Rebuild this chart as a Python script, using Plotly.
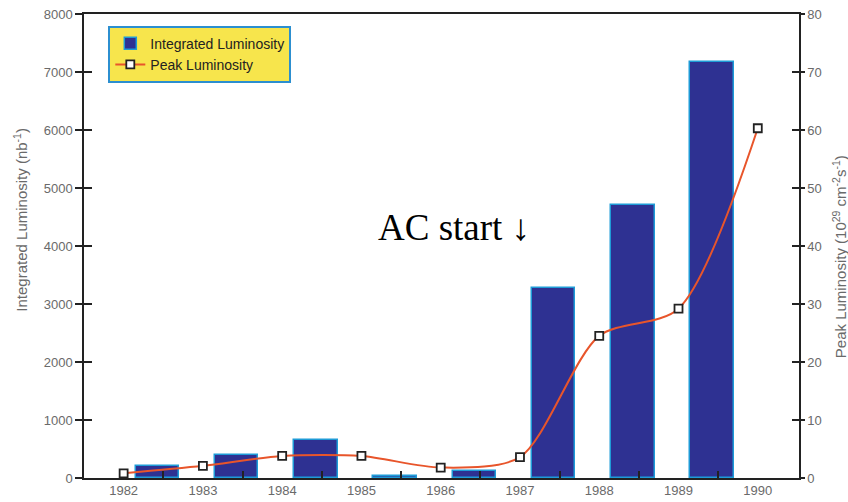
import plotly.graph_objects as go

# Fiscal-year integrated luminosity (nb^-1), bars drawn between year labels
bar_years = [1982, 1983, 1984, 1985, 1986, 1987, 1988, 1989]
integrated_lumi = [200, 390, 650, 30, 125, 3280, 4700, 7170]

# Peak luminosity (10^29 cm^-2 s^-1) at each year mark
peak_years = [1982, 1983, 1984, 1985, 1986, 1987, 1988, 1989, 1990]
peak_lumi = [0.8, 2.1, 3.8, 3.8, 1.8, 3.6, 24.5, 29.2, 60.3]

year_labels = [str(y) for y in peak_years]
left_ticks = [0, 1000, 2000, 3000, 4000, 5000, 6000, 7000, 8000]
right_ticks = [0, 10, 20, 30, 40, 50, 60, 70, 80]

FONT = "Liberation Sans Narrow, Arial Narrow, Liberation Sans, Arial"
GRAY = "#6a6a6a"
BAR_FILL = "#2E3192"
BAR_EDGE = "#1E9BD7"
LINE_COL = "#E8552B"

fig = go.Figure()

fig.add_trace(go.Bar(
    x=bar_years, y=integrated_lumi, name="Integrated Luminosity",
    offset=0.15, width=0.55,
    marker=dict(color=BAR_FILL, line=dict(color=BAR_EDGE, width=1.5)),
    xaxis="x", yaxis="y",
))

fig.add_trace(go.Scatter(
    x=peak_years, y=peak_lumi, name="Peak Luminosity",
    mode="lines+markers", line=dict(color=LINE_COL, width=2, shape="spline", smoothing=0.8),
    marker=dict(symbol="square", size=8, color="white", line=dict(color="#222222", width=1.8)),
    xaxis="x", yaxis="y2",
))

xr = [1981.5, 1990.52]
fig.update_layout(
    width=848, height=502,
    margin=dict(l=84, r=49, t=14, b=24),
    paper_bgcolor="white", plot_bgcolor="white",
    font=dict(family=FONT, size=13, color=GRAY),
    showlegend=True,
    legend=dict(
        x=0.034, y=0.975, xanchor="left", yanchor="top",
        bgcolor="#F7E54C", bordercolor="#2C8FD0", borderwidth=2,
        font=dict(family=FONT, size=14, color="#222222"),
        tracegroupgap=0, itemwidth=30,
    ),
    xaxis=dict(
        range=xr, showgrid=False, zeroline=False, automargin=False,
        tickvals=peak_years, ticktext=year_labels, ticks="",
        tickfont=dict(family=FONT, size=13, color=GRAY),
        showline=True, linecolor="#222222", linewidth=1.5, mirror=True,
        minor=dict(tickvals=[y + 0.5 for y in bar_years], ticks="inside",
                   ticklen=7, tickcolor="#222222", tickwidth=1.5),
    ),
    yaxis=dict(
        range=[0, 8000], showgrid=False, zeroline=False, automargin=False,
        tickvals=left_ticks, ticks="outside", ticklen=7, tickwidth=1.5, tickcolor="#222222",
        tickfont=dict(family=FONT, size=13, color=GRAY),
        showline=True, linecolor="#222222", linewidth=1.5,
    ),
    yaxis2=dict(
        range=[0, 80], overlaying="y", side="right", showgrid=False, zeroline=False,
        automargin=False,
        tickvals=right_ticks, ticks="outside", ticklen=4, tickwidth=1.5, tickcolor="#222222",
        tickfont=dict(family=FONT, size=13, color=GRAY),
        showline=True, linecolor="#222222", linewidth=1.5,
    ),
    # inner halves of the crossing tick marks
    yaxis3=dict(
        range=[0, 8000], overlaying="y", side="left", showgrid=False, zeroline=False,
        automargin=False,
        tickvals=left_ticks, ticks="inside", ticklen=8, tickwidth=1.5, tickcolor="#222222",
        showticklabels=False, showline=False,
    ),
    yaxis4=dict(
        range=[0, 80], overlaying="y", side="right", showgrid=False, zeroline=False,
        automargin=False,
        tickvals=right_ticks, ticks="inside", ticklen=7, tickwidth=1.5, tickcolor="#222222",
        showticklabels=False, showline=False,
    ),
    bargap=0,
)

# empty traces so the extra tick axes are drawn
fig.add_trace(go.Scatter(x=[None], y=[None], yaxis="y3", showlegend=False, hoverinfo="skip"))
fig.add_trace(go.Scatter(x=[None], y=[None], yaxis="y4", showlegend=False, hoverinfo="skip"))

fig.add_annotation(
    text="Integrated Luminosity (nb<sup>-1</sup>)", textangle=-90,
    xref="paper", yref="paper", x=-0.09, y=0.556, xanchor="center", yanchor="middle",
    showarrow=False, font=dict(family=FONT, size=15, color=GRAY),
)
fig.add_annotation(
    text="Peak Luminosity (10<sup>29</sup> cm<sup>-2</sup>s<sup>-1</sup>)", textangle=-90,
    xref="paper", yref="paper", x=1.056, y=0.476, xanchor="center", yanchor="middle",
    showarrow=False, font=dict(family=FONT, size=15, color=GRAY),
)
fig.add_annotation(
    text="AC start \u2193",
    xref="paper", yref="paper", x=0.517, y=0.539, xanchor="center", yanchor="middle",
    showarrow=False, font=dict(family="Liberation Serif, Times New Roman, serif", size=37, color="black"),
)

fig.write_html("out.html")
